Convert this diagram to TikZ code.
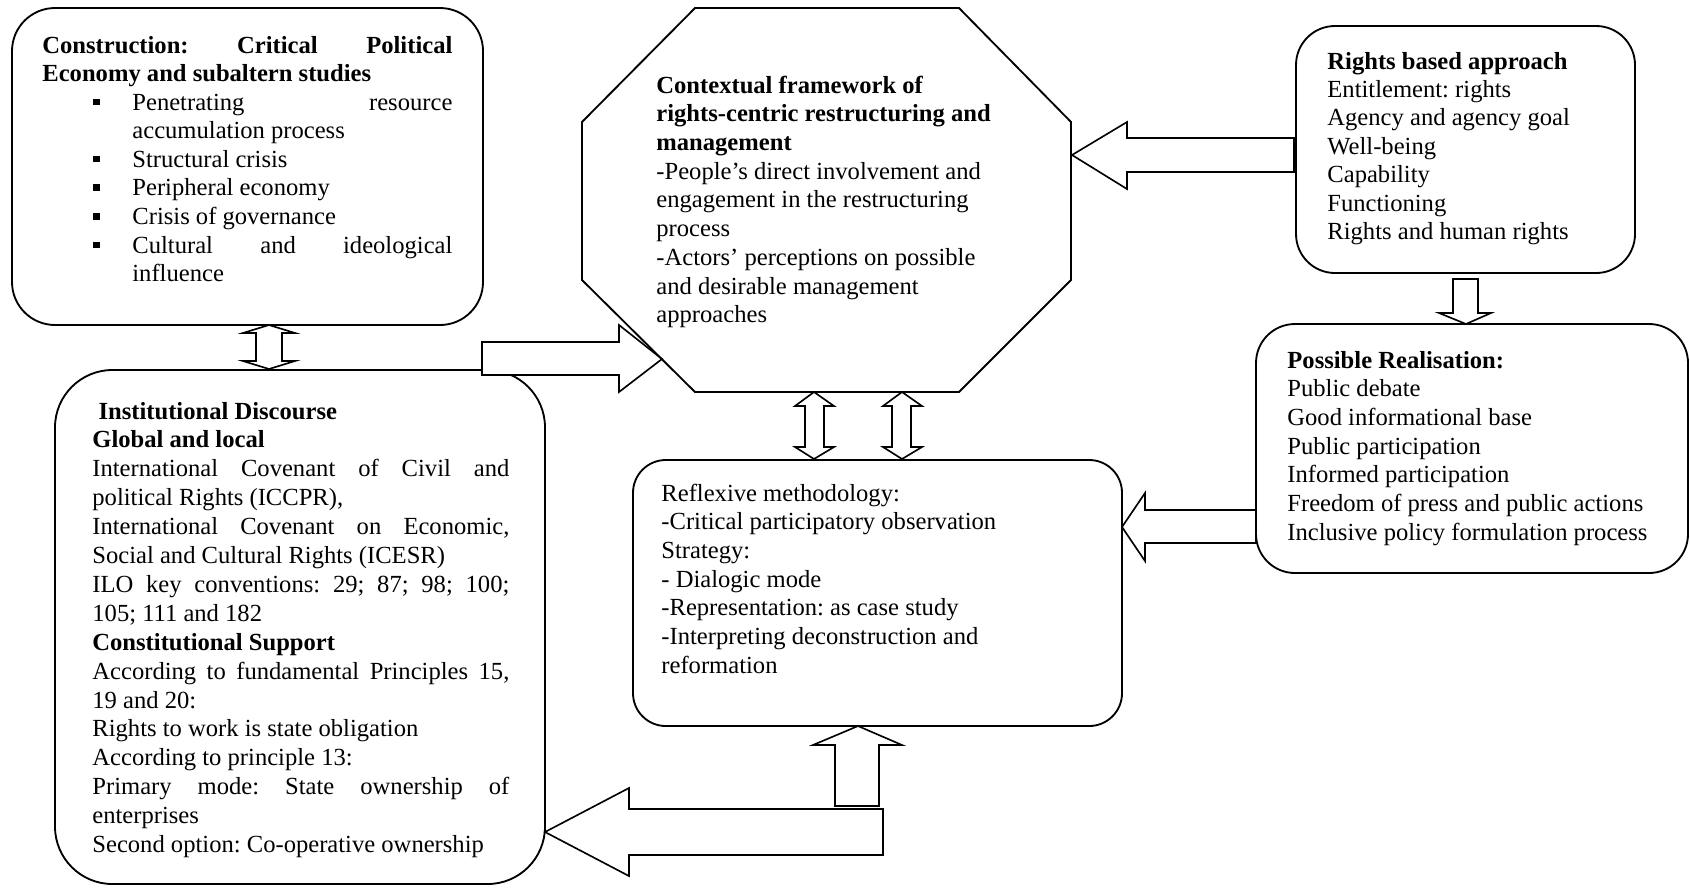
\documentclass[tikz,border=0pt]{standalone}
\usepackage{fontspec}
\setmainfont{Liberation Serif}
\usetikzlibrary{fit}
\frenchspacing
% small square bullet and list helpers
\newcommand{\boxbullet}{\rule[2.4pt]{3.4pt}{3.3pt}}
\newcommand{\bitem}[1]{\hspace*{24.9pt}\makebox[19pt][l]{\boxbullet}#1}
\newcommand{\jline}[2]{\makebox[#1][s]{#2}}
\begin{document}
\begin{tikzpicture}[x=0.4878pt,y=-0.4878pt,
  panel/.style={draw, line width=0.9pt, fill=white, inner sep=0pt},
  blockarrow/.style={draw, line width=0.8pt, fill=white, line join=miter},
  txt/.style={anchor=base west, inner sep=0pt, font=\fontsize{12}{13.95}\selectfont}]
\useasboundingbox (0,0) rectangle (1690,887);

% rounded panels
\node[panel, rounded corners=21pt, fit={(12,8)(483,325)}] (construction) {};
\node[panel, rounded corners=28pt, fit={(55,370)(545,884)}] (discourse) {};
\node[panel, rounded corners=19pt, fit={(1296,26)(1635,273)}] (rights) {};
\node[panel, rounded corners=19pt, fit={(1256,324)(1688,573)}] (realisation) {};
\node[panel, rounded corners=16pt, fit={(633,460)(1122,726)}] (reflexive) {};

% block arrows
% construction <-> discourse
\draw[blockarrow] (269,325) -- (295,333) -- (282,333) -- (282,361) -- (295,361) -- (269,369)
  -- (243,361) -- (256,361) -- (256,333) -- (243,333) -- cycle;
% discourse -> framework
\draw[blockarrow] (482,342) -- (619,342) -- (619,325) -- (662,359) -- (619,392) -- (619,375) -- (482,375) -- cycle;
% rights -> framework
\draw[blockarrow] (1294,138) -- (1127,138) -- (1127,122) -- (1072,155) -- (1127,189) -- (1127,172) -- (1294,172) -- cycle;
% rights -> realisation
\draw[blockarrow] (1453,279) -- (1478,279) -- (1478,313) -- (1491,313) -- (1466,324) -- (1439,313) -- (1453,313) -- cycle;
% realisation -> reflexive
\draw[blockarrow] (1256,510) -- (1145,510) -- (1145,493) -- (1122,527) -- (1145,561) -- (1145,543) -- (1256,543) -- cycle;
% framework <-> reflexive (two)
\draw[blockarrow] (814,392) -- (834,406) -- (824,406) -- (824,447) -- (834,447) -- (814,459)
  -- (795,447) -- (805,447) -- (805,406) -- (795,406) -- cycle;
\draw[blockarrow] (902,392) -- (922,406) -- (911,406) -- (911,447) -- (922,447) -- (902,459)
  -- (883,447) -- (892,447) -- (892,406) -- (883,406) -- cycle;
% feedback: up into reflexive, left into discourse
\draw[blockarrow] (858,726) -- (902,745) -- (879,745) -- (879,806) -- (835,806) -- (835,745) -- (813,745) -- cycle;
\draw[blockarrow] (883,809) -- (629,809) -- (629,788) -- (545,832) -- (629,876) -- (629,855) -- (883,855) -- cycle;

% octagonal framework
\draw[line width=0.9pt] (695,8) -- (959,8) -- (1071,122) -- (1071,280) -- (959,392) -- (695,392)
  -- (582,280) -- (582,122) -- cycle;
\coordinate (framework) at (826,200);

% texts
\node[txt] (t-construction) at (42,53) {\parbox[t]{200pt}{\bfseries
  \jline{200pt}{Construction: Critical Political}\\
  Economy and subaltern studies\\
  \mdseries
  \bitem{\jline{156.1pt}{Penetrating resource}}\\
  \hspace*{43.9pt}accumulation process\\
  \bitem{Structural crisis}\\
  \bitem{Peripheral economy}\\
  \bitem{Crisis of governance}\\
  \bitem{\jline{156.1pt}{Cultural and ideological}}\\
  \hspace*{43.9pt}influence}};

\node[txt, font=\fontsize{12}{14.1}\selectfont] (t-discourse) at (92,419) {\parbox[t]{203.4pt}{%
  \textbf{\hspace*{3pt}Institutional Discourse}\\
  \textbf{Global and local}\\
  \jline{203.4pt}{International Covenant of Civil and}\\
  political Rights (ICCPR),\\
  \jline{203.4pt}{International Covenant on Economic,}\\
  Social and Cultural Rights (ICESR)\\
  \jline{203.4pt}{ILO key conventions: 29; 87; 98; 100;}\\
  105; 111 and 182\\
  \textbf{Constitutional Support}\\
  \jline{203.4pt}{According to fundamental Principles 15,}\\
  19 and 20:\\
  Rights to work is state obligation\\
  According to principle 13:\\
  \jline{203.4pt}{Primary mode: State ownership of}\\
  enterprises\\
  Second option: Co-operative ownership}};

\node[txt, font=\fontsize{12}{14.02}\selectfont] (t-framework) at (656,93) {\parbox[t]{220pt}{\bfseries
  Contextual framework of\\
  rights-centric restructuring and\\
  management\\
  \mdseries
  -People’s direct involvement and\\
  engagement in the restructuring\\
  process\\
  -Actors’ perceptions on possible\\
  and desirable management\\
  approaches}};

\node[txt, font=\fontsize{12}{13.9}\selectfont] (t-rights) at (1327,69) {\parbox[t]{170pt}{%
  \textbf{Rights based approach}\\
  Entitlement: rights\\
  Agency and agency goal\\
  Well-being\\
  Capability\\
  Functioning\\
  Rights and human rights}};

\node[txt, font=\fontsize{12}{14}\selectfont] (t-realisation) at (1287,368) {\parbox[t]{200pt}{%
  \textbf{Possible Realisation:}\\
  Public debate\\
  Good informational base\\
  Public participation\\
  Informed participation\\
  Freedom of press and public actions\\
  Inclusive policy formulation process}};

\node[txt, font=\fontsize{12}{14}\selectfont] (t-reflexive) at (661,501) {\parbox[t]{220pt}{%
  Reflexive methodology:\\
  -Critical participatory observation\\
  Strategy:\\
  - Dialogic mode\\
  -Representation: as case study\\
  -Interpreting deconstruction and\\
  reformation}};
\end{tikzpicture}
\end{document}
